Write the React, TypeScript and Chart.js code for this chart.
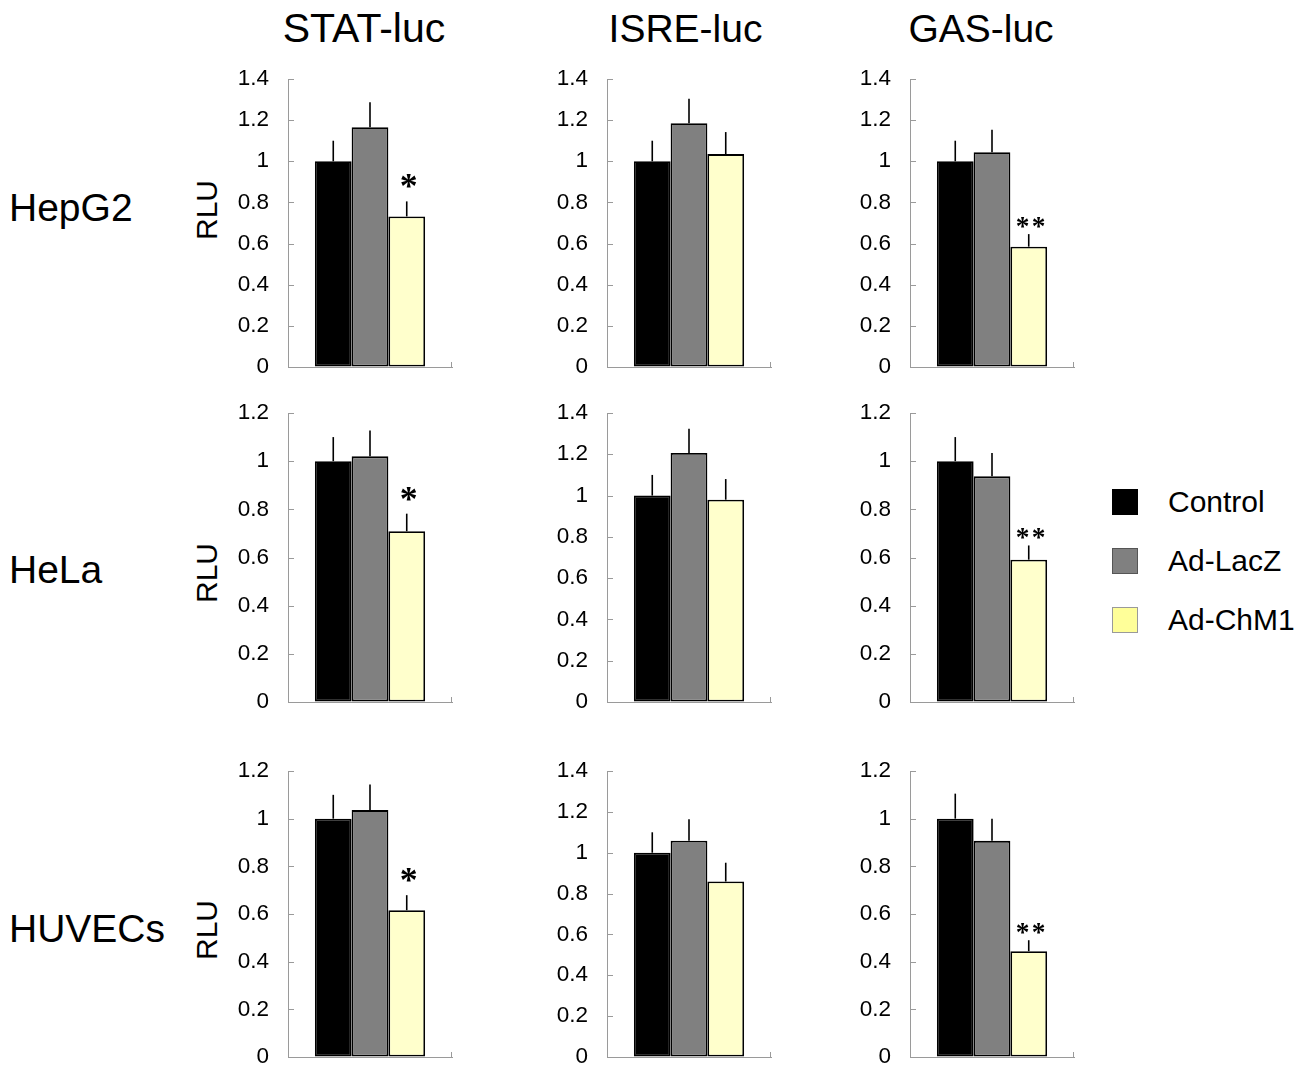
import React, { useEffect, useRef } from 'react';
import { Chart, registerables } from 'chart.js';

Chart.register(...registerables);

// ---------------- DATA ----------------
const seriesNames = ['Control', 'Ad-LacZ', 'Ad-ChM1'];
const reporters = ['STAT-luc', 'ISRE-luc', 'GAS-luc'];
const cellLines = ['HepG2', 'HeLa', 'HUVECs'];
const axisTitle = 'RLU';

// Means per reporter: [Control, Ad-LacZ, Ad-ChM1]
const hepg2Means = [[1.0, 1.166, 0.732], [1.0, 1.185, 1.035], [1.0, 1.044, 0.585]];
const helaMeans = [[1.0, 1.02, 0.709], [1.0, 1.206, 0.98], [1.0, 0.937, 0.591]];
const huvecMeans = [[1.0, 1.036, 0.616], [1.0, 1.059, 0.859], [1.0, 0.907, 0.444]];

// Error (SD) per reporter: [Control, Ad-LacZ, Ad-ChM1]
const hepg2Errors = [[0.10, 0.121, 0.073], [0.10, 0.119, 0.107], [0.10, 0.109, 0.061]];
const helaErrors = [[0.10, 0.107, 0.073], [0.10, 0.118, 0.10], [0.10, 0.097, 0.059]];
const huvecErrors = [[0.10, 0.107, 0.063], [0.10, 0.105, 0.092], [0.105, 0.093, 0.046]];

// Axis maxima per row (STAT, ISRE, GAS)
const hepg2YMax = [1.4, 1.4, 1.4];
const helaYMax = [1.2, 1.4, 1.2];
const huvecYMax = [1.2, 1.4, 1.2];
const yStep = 0.2;

// Significance marks on Ad-ChM1 per reporter
const significance = ['*', '', '**'];

const allMeans = [hepg2Means, helaMeans, huvecMeans];
const allErrors = [hepg2Errors, helaErrors, huvecErrors];
const allYMax = [hepg2YMax, helaYMax, huvecYMax];

// ---------------- STYLE / LAYOUT ----------------
const barColors = ['#000000', '#808080', '#FFFFCC'];
const legendColors = ['#000000', '#808080', '#FFFF99'];
const legendBorders = ['#000000', '#555555', '#9a9a9a'];
const axisColor = '#9a9a9a';
const FONT = "'Liberation Sans', Arial, sans-serif";

const colAxisX = [288, 607, 910];
const rowTop = [79, 413, 771];
const rowBottom = [367, 702, 1057];
const plotW = 164;
const yAxisW = 100;
const padTop = 40;
const padBottom = 40;
const padRight = 12;

function drawStar(ctx: CanvasRenderingContext2D, cx: number, bottomY: number, targetW: number) {
  const fam = "'Liberation Serif', 'Times New Roman', serif";
  ctx.font = `bold 100px ${fam}`;
  const m = ctx.measureText('*');
  const w = m.actualBoundingBoxLeft + m.actualBoundingBoxRight;
  const size = (100 * targetW) / (w || 40);
  ctx.font = `bold ${size}px ${fam}`;
  const m2 = ctx.measureText('*');
  const gw = m2.actualBoundingBoxLeft + m2.actualBoundingBoxRight;
  ctx.textAlign = 'left';
  ctx.textBaseline = 'alphabetic';
  const x = cx - gw / 2 + m2.actualBoundingBoxLeft;
  const y = bottomY - m2.actualBoundingBoxDescent;
  ctx.fillStyle = '#000';
  ctx.fillText('*', x, y);
}

function Panel({ row, col }: { row: number; col: number }) {
  const ref = useRef<HTMLCanvasElement | null>(null);
  const plotH = rowBottom[row] - rowTop[row];
  const W = yAxisW + plotW + padRight;
  const H = padTop + plotH + padBottom;

  useEffect(() => {
    if (!ref.current) return;
    const means = allMeans[row][col];
    const errs = allErrors[row][col];
    const yMax = allYMax[row][col];
    const sig = significance[col];

    const overlay = {
      id: 'overlay',
      afterDatasetsDraw(chart: any) {
        const ctx = chart.ctx as CanvasRenderingContext2D;
        const ys = chart.scales.y;
        const area = chart.chartArea;
        ctx.save();
        // inside tick marks on y axis
        ctx.strokeStyle = axisColor;
        ctx.lineWidth = 1;
        ys.ticks.forEach((_t: any, i: number) => {
          const py = Math.round(ys.getPixelForTick(i)) + 0.5;
          ctx.beginPath();
          ctx.moveTo(area.left, py);
          ctx.lineTo(area.left + 6, py);
          ctx.stroke();
        });
        // tick at right end of category axis
        const rx = Math.round(area.right) - 0.5;
        ctx.beginPath();
        ctx.moveTo(rx, area.bottom);
        ctx.lineTo(rx, area.bottom - 5);
        ctx.stroke();
        // error bars
        ctx.strokeStyle = '#000';
        ctx.lineWidth = 1.6;
        chart.data.datasets.forEach((_d: any, i: number) => {
          const el = chart.getDatasetMeta(i).data[0];
          const top = ys.getPixelForValue(means[i]);
          const e = ys.getPixelForValue(means[i] + errs[i]);
          ctx.beginPath();
          ctx.moveTo(el.x, top);
          ctx.lineTo(el.x, e);
          ctx.stroke();
        });
        // significance stars above Ad-ChM1
        if (sig) {
          const el = chart.getDatasetMeta(2).data[0];
          const e = ys.getPixelForValue(means[2] + errs[2]);
          if (sig === '*') {
            drawStar(ctx, el.x + 2, e - 13, 15);
          } else {
            drawStar(ctx, el.x - 6, e - 6, 11.5);
            drawStar(ctx, el.x + 10, e - 6, 11.5);
          }
        }
        ctx.restore();
      },
    };

    const chart = new Chart(ref.current, {
      type: 'bar',
      data: {
        labels: [''],
        datasets: seriesNames.map((name, i) => ({
          label: name,
          data: [means[i]],
          backgroundColor: barColors[i],
          borderColor: '#000000',
          borderWidth: 1.8,
          borderSkipped: false,
          categoryPercentage: 0.672,
          barPercentage: 1.0,
        })),
      },
      options: {
        responsive: false,
        animation: false,
        devicePixelRatio: 1,
        layout: { padding: { left: 0, right: padRight, top: padTop, bottom: padBottom } },
        plugins: { legend: { display: false }, tooltip: { enabled: false } },
        scales: {
          x: {
            type: 'category',
            offset: true,
            ticks: { display: false },
            grid: { display: true, drawOnChartArea: false, drawTicks: false },
            border: { display: true, color: axisColor, width: 1 },
            afterFit: (s: any) => {
              s.height = 0;
            },
          },
          y: {
            min: 0,
            max: yMax,
            ticks: {
              stepSize: yStep,
              padding: 19,
              color: '#000',
              font: { family: FONT, size: 22.5 },
              callback: (v: any) => String(Math.round(Number(v) * 10) / 10),
            },
            grid: { display: true, drawOnChartArea: false, drawTicks: false },
            border: { display: true, color: axisColor, width: 1 },
            afterFit: (s: any) => {
              s.width = yAxisW;
            },
          },
        },
      },
      plugins: [overlay],
    } as any);
    return () => chart.destroy();
  }, [row, col]);

  return (
    <canvas
      ref={ref}
      width={W}
      height={H}
      style={{
        position: 'absolute',
        left: colAxisX[col] - yAxisW,
        top: rowTop[row] - padTop,
        width: W,
        height: H,
      }}
    />
  );
}

const titleX = [364, 685.5, 981];
const titleSize = [41, 39, 39];
const titleY = 28;
const rowLabelY = [207, 569, 928];
const rlUY = [210, 573, 930];
const legendY = [502, 561, 620];

export default function App() {
  const center = (x: number, y: number): React.CSSProperties => ({
    position: 'absolute',
    left: x,
    top: y,
    transform: 'translate(-50%, -50%)',
    lineHeight: 1,
    whiteSpace: 'nowrap',
  });
  return (
    <div
      style={{
        position: 'absolute',
        left: 0,
        top: 0,
        width: 1308,
        height: 1066,
        overflow: 'hidden',
        background: '#fff',
        fontFamily: FONT,
        color: '#000',
      }}
    >
      {reporters.map((t, i) => (
        <div key={t} style={{ ...center(titleX[i], titleY), fontSize: titleSize[i] }}>
          {t}
        </div>
      ))}
      {cellLines.map((t, i) => (
        <div
          key={t}
          style={{
            position: 'absolute',
            left: 9,
            top: rowLabelY[i],
            transform: 'translateY(-50%)',
            lineHeight: 1,
            fontSize: 39,
            whiteSpace: 'nowrap',
          }}
        >
          {t}
        </div>
      ))}
      {cellLines.map((t, i) => (
        <div
          key={'rlu' + t}
          style={{ ...center(207, rlUY[i]), transform: 'translate(-50%, -50%) rotate(-90deg)', fontSize: 30 }}
        >
          {axisTitle}
        </div>
      ))}
      {cellLines.map((_r, ri) =>
        reporters.map((_c, ci) => <Panel key={ri + '-' + ci} row={ri} col={ci} />)
      )}
      {seriesNames.map((n, i) => (
        <React.Fragment key={n}>
          <div
            style={{
              position: 'absolute',
              left: 1112,
              top: legendY[i] - 13,
              width: 26,
              height: 26,
              boxSizing: 'border-box',
              background: legendColors[i],
              border: `1px solid ${legendBorders[i]}`,
            }}
          />
          <div
            style={{
              position: 'absolute',
              left: 1168,
              top: legendY[i],
              transform: 'translateY(-50%)',
              lineHeight: 1,
              fontSize: 30,
              whiteSpace: 'nowrap',
            }}
          >
            {n}
          </div>
        </React.Fragment>
      ))}
    </div>
  );
}
